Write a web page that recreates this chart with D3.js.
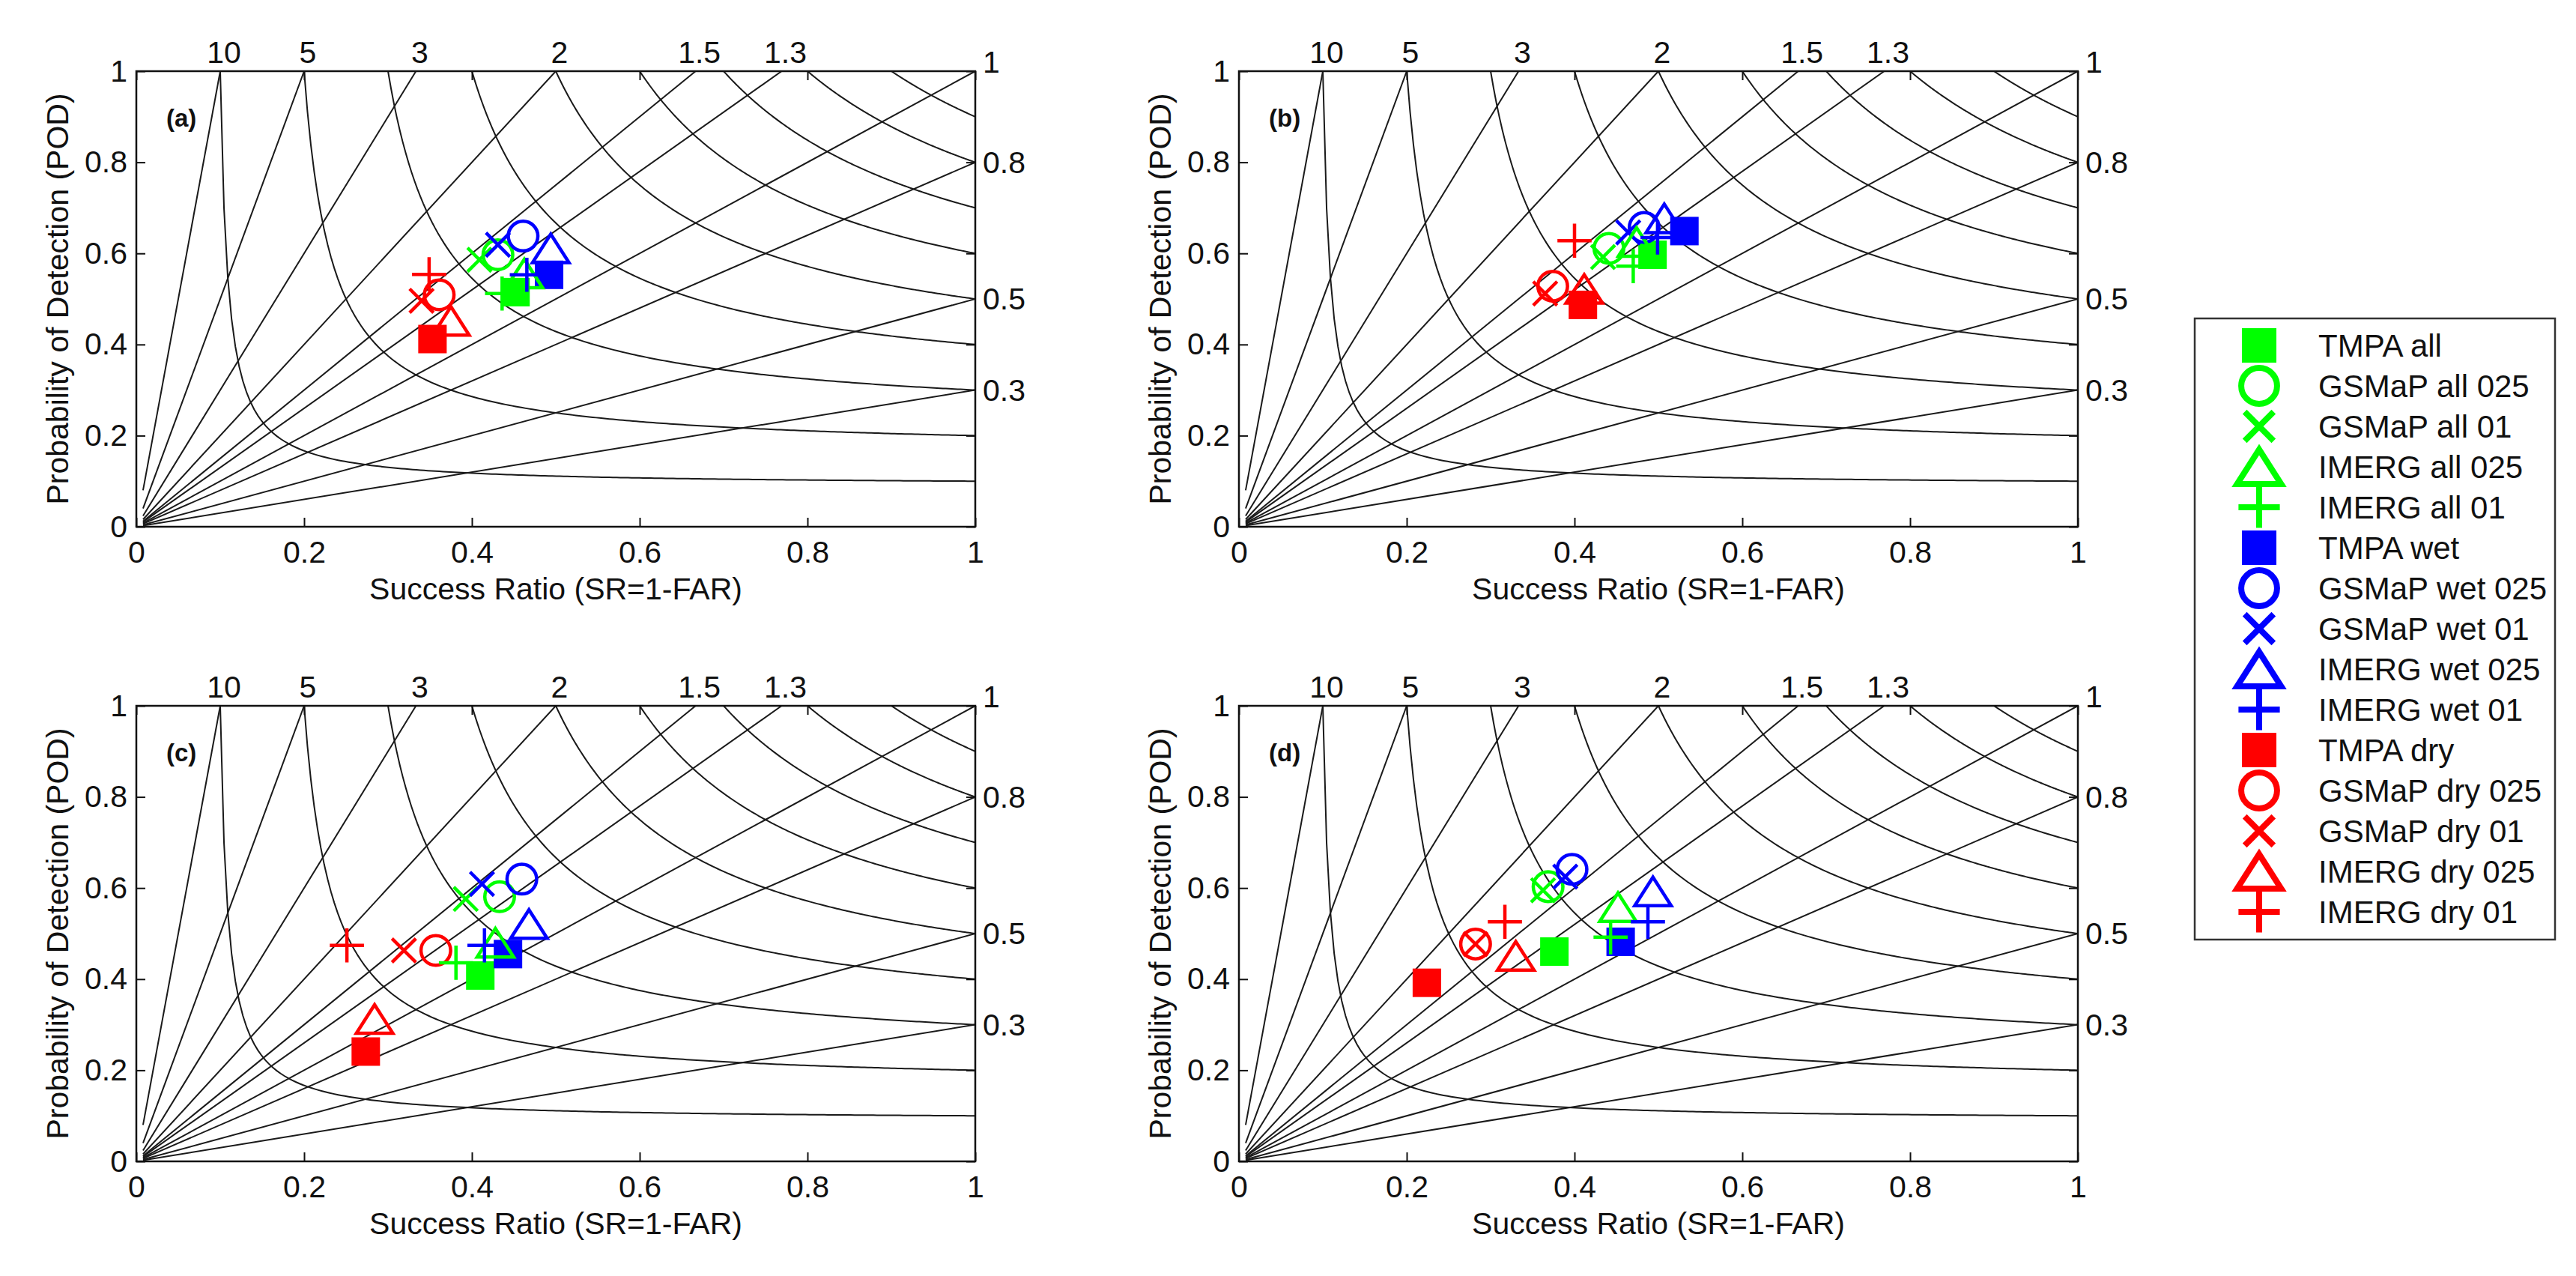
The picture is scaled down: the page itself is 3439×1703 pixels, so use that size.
<!DOCTYPE html>
<html>
<head>
  <title>Performance diagrams</title>
  <style>
    body { margin: 0; background-color: white; }
    svg { display: block; }
  </style>
</head>
<body>
  <svg id="chart" width="3439" height="1703"></svg>

  <script src="https://d3js.org/d3.v7.min.js"></script>
  <script>
    // legend order
    const seriesNames = [
      "TMPA all", "GSMaP all 025", "GSMaP all 01", "IMERG all 025", "IMERG all 01",
      "TMPA wet", "GSMaP wet 025", "GSMaP wet 01", "IMERG wet 025", "IMERG wet 01",
      "TMPA dry", "GSMaP dry 025", "GSMaP dry 01", "IMERG dry 025", "IMERG dry 01"
    ];
    const panelLabels = ["(a)", "(b)", "(c)", "(d)"];

    // success ratio / POD per panel, same order as seriesNames
    const srA  = [0.452, 0.431, 0.409, 0.4625, 0.436, 0.492, 0.461, 0.431, 0.494, 0.4655, 0.353, 0.361, 0.340, 0.375, 0.349];
    const podA = [0.515, 0.597, 0.586, 0.556, 0.512, 0.553, 0.638, 0.619, 0.611, 0.553, 0.412, 0.509, 0.496, 0.452, 0.554];
    const srB  = [0.493, 0.441, 0.434, 0.474, 0.470, 0.531, 0.483, 0.464, 0.507, 0.499, 0.410, 0.374, 0.365, 0.4116, 0.400];
    const podB = [0.597, 0.611, 0.592, 0.625, 0.572, 0.649, 0.657, 0.646, 0.677, 0.635, 0.487, 0.528, 0.512, 0.522, 0.628];
    const srC  = [0.410, 0.433, 0.3926, 0.428, 0.381, 0.443, 0.4595, 0.412, 0.468, 0.415, 0.2735, 0.357, 0.319, 0.284, 0.251];
    const podC = [0.408, 0.581, 0.576, 0.480, 0.436, 0.455, 0.6195, 0.609, 0.521, 0.474, 0.241, 0.463, 0.463, 0.3125, 0.474];
    const srD  = [0.376, 0.3685, 0.3625, 0.4518, 0.443, 0.455, 0.397, 0.389, 0.4935, 0.4875, 0.224, 0.282, 0.282, 0.330, 0.317];
    const podD = [0.4605, 0.603, 0.595, 0.558, 0.492, 0.482, 0.641, 0.625, 0.5926, 0.526, 0.392, 0.477, 0.477, 0.451, 0.526];

    const xTicks = [0, 0.2, 0.4, 0.6, 0.8, 1];
    const yTicks = [0, 0.2, 0.4, 0.6, 0.8, 1];
    const biasValues = [0.3, 0.5, 0.8, 1, 1.3, 1.5, 2, 3, 5, 10];
    const biasLabels = ["0.3", "0.5", "0.8", "1", "1.3", "1.5", "2", "3", "5", "10"];
    const csiValues = [0.1, 0.2, 0.3, 0.4, 0.5, 0.6, 0.7, 0.8, 0.9];

    // styles
    const colorOf = name => name.includes("all") ? "#00ff00" : name.includes("wet") ? "#0000ff" : "#ff0000";
    const shapeOf = name => name.startsWith("TMPA") ? "square"
      : name.startsWith("GSMaP") ? (name.endsWith("025") ? "circle" : "cross")
      : (name.endsWith("025") ? "triangle" : "plus");
    // product-major drawing order
    const drawOrder = [0, 5, 10, 1, 6, 11, 2, 7, 12, 3, 8, 13, 4, 9, 14];

    const font = "'Liberation Sans', Arial, sans-serif";
    const W = 1120, H = 608;
    const panels = [
      { left: 182, top: 95, sr: srA, pod: podA },
      { left: 1654, top: 95, sr: srB, pod: podB },
      { left: 182, top: 942, sr: srC, pod: podC },
      { left: 1654, top: 942, sr: srD, pod: podD }
    ];

    const svg = d3.select("#chart");
    svg.append("rect").attr("width", 3439).attr("height", 1703).attr("fill", "white");

    function drawMarker(g, shape, color, s, sw) {
      // s = nominal marker size in px
      if (shape === "square") {
        g.append("rect").attr("x", -s / 2).attr("y", -s / 2).attr("width", s).attr("height", s)
          .attr("fill", color);
      } else if (shape === "circle") {
        g.append("circle").attr("r", s * 0.52).attr("fill", "none")
          .attr("stroke", color).attr("stroke-width", sw);
      } else if (shape === "cross") {
        const h = s * 0.42;
        g.append("path").attr("d", `M${-h},${-h}L${h},${h}M${-h},${h}L${h},${-h}`)
          .attr("stroke", color).attr("stroke-width", sw).attr("fill", "none");
      } else if (shape === "triangle") {
        const hw = s * 0.64, hh = s * 0.5;
        g.append("path").attr("d", `M0,${-hh}L${hw},${hh}L${-hw},${hh}Z`)
          .attr("stroke", color).attr("stroke-width", sw).attr("fill", "none")
          .attr("stroke-linejoin", "miter");
      } else {
        const h = s * 0.6;
        g.append("path").attr("d", `M${-h},0L${h},0M0,${-h}L0,${h}`)
          .attr("stroke", color).attr("stroke-width", sw).attr("fill", "none");
      }
    }

    panels.forEach((p, pi) => {
      const x = d3.scaleLinear().domain([0, 1]).range([p.left, p.left + W]);
      const y = d3.scaleLinear().domain([0, 1]).range([p.top + H, p.top]);
      const g = svg.append("g");

      const clipId = "clip" + pi;
      svg.append("clipPath").attr("id", clipId)
        .append("rect").attr("x", p.left).attr("y", p.top).attr("width", W).attr("height", H);
      const bg = g.append("g").attr("clip-path", `url(#${clipId})`);

      // CSI curves
      const line = d3.line().x(d => x(d[0])).y(d => y(d[1]));
      csiValues.forEach(c => {
        const pts = d3.range(0, 201).map(i => {
          const s = c + (1 - c) * i / 200;
          return [s, 1 / (1 / c - 1 / s + 1)];
        });
        bg.append("path").attr("d", line(pts)).attr("fill", "none")
          .attr("stroke", "#1a1a1a").attr("stroke-width", 2);
      });
      // bias lines
      biasValues.forEach(b => {
        const end = b >= 1 ? [1 / b, 1] : [1, b];
        bg.append("path").attr("d", line([[0.008, 0.008 * b], end])).attr("fill", "none")
          .attr("stroke", "#1a1a1a").attr("stroke-width", 2);
      });

      // axes with inward ticks
      const fmt = d3.format("~g");
      const ax = g.append("g").attr("transform", `translate(0,${p.top + H})`)
        .call(d3.axisBottom(x).tickValues(xTicks).tickFormat(fmt).tickSizeInner(-12).tickSizeOuter(0).tickPadding(19));
      const ay = g.append("g").attr("transform", `translate(${p.left},0)`)
        .call(d3.axisLeft(y).tickValues(yTicks).tickFormat(fmt).tickSizeInner(-12).tickSizeOuter(0).tickPadding(12));
      g.append("g").attr("transform", `translate(0,${p.top})`)
        .call(d3.axisTop(x).tickValues(xTicks).tickFormat("").tickSizeInner(-12).tickSizeOuter(0));
      g.append("g").attr("transform", `translate(${p.left + W},0)`)
        .call(d3.axisRight(y).tickValues(yTicks).tickFormat("").tickSizeInner(-12).tickSizeOuter(0));
      g.selectAll(".domain").remove();
      g.selectAll(".tick line").attr("stroke", "#111").attr("stroke-width", 2);
      [ax, ay].forEach(a => a.selectAll("text")
        .attr("font-family", font).attr("font-size", 41).attr("fill", "#111"));

      g.append("rect").attr("x", p.left).attr("y", p.top).attr("width", W).attr("height", H)
        .attr("fill", "none").attr("stroke", "#111").attr("stroke-width", 2.5);

      // bias labels: above the top edge for bias > 1, right of the frame otherwise
      biasValues.forEach((b, i) => {
        const t = g.append("text").text(biasLabels[i])
          .attr("font-family", font).attr("font-size", 41).attr("fill", "#111");
        if (b > 1) {
          t.attr("x", x(1 / b) + 5).attr("y", p.top - 11).attr("text-anchor", "middle");
        } else if (b === 1) {
          t.attr("x", p.left + W + 10).attr("y", p.top + 2);
        } else {
          t.attr("x", p.left + W + 10).attr("y", y(b) + 14);
        }
      });

      // axis titles
      g.append("text").text("Success Ratio (SR=1-FAR)")
        .attr("x", p.left + W / 2).attr("y", p.top + H + 97).attr("text-anchor", "middle")
        .attr("font-family", font).attr("font-size", 41).attr("fill", "#111");
      g.append("text").text("Probability of Detection (POD)")
        .attr("transform", `translate(${p.left - 91},${p.top + H / 2}) rotate(-90)`)
        .attr("text-anchor", "middle")
        .attr("font-family", font).attr("font-size", 41).attr("fill", "#111");

      g.append("text").text(panelLabels[pi])
        .attr("x", p.left + 40).attr("y", p.top + 74)
        .attr("font-family", font).attr("font-size", 33).attr("font-weight", "bold").attr("fill", "#111");

      // markers
      drawOrder.forEach(i => {
        const name = seriesNames[i];
        const m = g.append("g").attr("transform", `translate(${x(p.sr[i])},${y(p.pod[i])})`);
        drawMarker(m, shapeOf(name), colorOf(name), 38, 4.5);
      });
    });

    // legend
    const lg = svg.append("g");
    lg.append("rect").attr("x", 2930).attr("y", 425).attr("width", 481).attr("height", 829)
      .attr("fill", "white").attr("stroke", "#333").attr("stroke-width", 2.5);
    const ly = d3.scalePoint().domain(seriesNames).range([461, 1217]);
    seriesNames.forEach(name => {
      const m = lg.append("g").attr("transform", `translate(3016,${ly(name)})`);
      drawMarker(m, shapeOf(name), colorOf(name), 46, 8);
      lg.append("text").text(name)
        .attr("x", 3095).attr("y", ly(name) + 15)
        .attr("font-family", font).attr("font-size", 42).attr("fill", "#111");
    });
  </script>
</body>
</html>
